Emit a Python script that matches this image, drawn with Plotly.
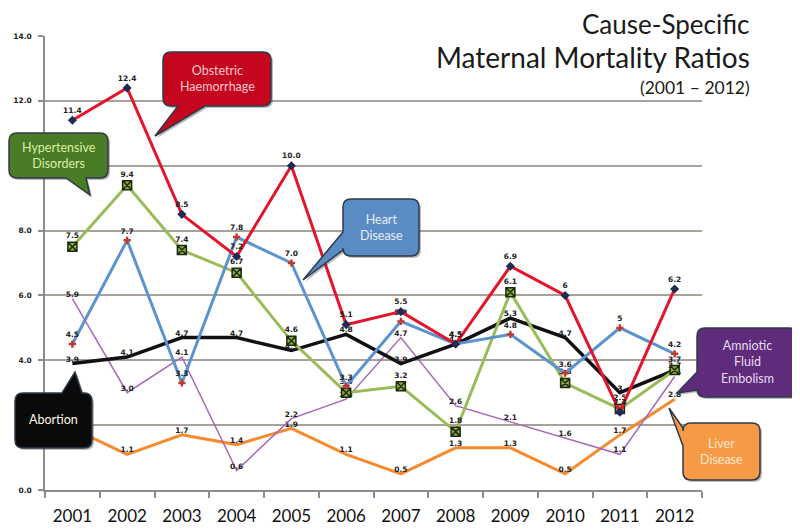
import plotly.graph_objects as go

years = ["2001", "2002", "2003", "2004", "2005", "2006", "2007", "2008", "2009", "2010", "2011", "2012"]
obstetric = [11.4, 12.4, 8.5, 7.2, 10.0, 5.1, 5.5, 4.5, 6.9, 6.0, 2.4, 6.2]
obstetric_lbl = ["11.4", "12.4", "8.5", "7.2", "10.0", "5.1", "5.5", "4.5", "6.9", "6", "2.4", "6.2"]
hypertensive = [7.5, 9.4, 7.4, 6.7, 4.6, 3.0, 3.2, 1.8, 6.1, 3.3, 2.5, 3.7]
heart = [4.5, 7.7, 3.3, 7.8, 7.0, 3.2, 5.2, 4.5, 4.8, 3.6, 5.0, 4.2]
heart_lbl = ["4.5", "7.7", "3.3", "7.8", "7.0", "3.3", "5.3", "4.5", "4.8", "3.6", "5", "4.2"]
abortion = [3.9, 4.1, 4.7, 4.7, 4.3, 4.8, 3.9, 4.5, 5.3, 4.7, 3.0, 3.7]
abortion_lbl = ["3.9", "4.1", "4.7", "4.7", "4.3", "4.8", "3.9", "4.5", "5.3", "4.7", "3", "3.7"]
amniotic = [5.9, 3.0, 4.1, 0.6, 2.2, 2.8, 4.7, 2.6, 2.1, 1.6, 1.1, 3.5]
liver = [1.9, 1.1, 1.7, 1.4, 1.9, 1.1, 0.5, 1.3, 1.3, 0.5, 1.7, 2.8]
liver_lbl = ["", "1.1", "1.7", "1.4", "1.9", "1.1", "0.5", "1.3", "1.3", "0.5", "1.7", "2.8"]

# plot area on screen, in pixels (page body adds an 8px offset)
L, R, T, B = 45, 702, 36, 490
W, H = 800, 529
OFF = 8


def px(x, y):
    return (x - L) / (R - L), (B - y) / (B - T)


def bubble(x0, y0, x1, y1, r, edge, a, b, tip):
    def P(x, y):
        xp, yp = px(x, y)
        return f"{xp:.5f},{yp:.5f}"

    s = f"M {P(x0 + r, y0)} "
    if edge == "top":
        s += f"L {P(a, y0)} L {P(*tip)} L {P(b, y0)} "
    s += f"L {P(x1 - r, y0)} Q {P(x1, y0)} {P(x1, y0 + r)} "
    if edge == "right":
        s += f"L {P(x1, a)} L {P(*tip)} L {P(x1, b)} "
    s += f"L {P(x1, y1 - r)} Q {P(x1, y1)} {P(x1 - r, y1)} "
    if edge == "bottom":
        s += f"L {P(b, y1)} L {P(*tip)} L {P(a, y1)} "
    s += f"L {P(x0 + r, y1)} Q {P(x0, y1)} {P(x0, y1 - r)} "
    if edge == "left":
        s += f"L {P(x0, b)} L {P(*tip)} L {P(x0, a)} "
    s += f"L {P(x0, y0 + r)} Q {P(x0, y0)} {P(x0 + r, y0)} Z"
    return s


fig = go.Figure()

lbl_font = dict(family="DejaVu Sans", size=7.5, color="#222222", weight="bold")


def add(name, y, color, width, marker=None, text=None):
    fig.add_trace(go.Scatter(
        x=years, y=y, name=name,
        mode="lines+markers+text" if marker else "lines+text",
        line=dict(color=color, width=width),
        marker=marker,
        text=text if text is not None else [f"{v:.1f}" for v in y],
        textposition="top center",
        textfont=lbl_font,
        cliponaxis=False,
    ))


add("Liver Disease", liver, "#F58A2E", 3, text=liver_lbl)
add("Amniotic Fluid Embolism", amniotic, "#A467B8", 1.5)
add("Abortion", abortion, "#111111", 3.5, text=abortion_lbl)
add("Hypertensive Disorders", hypertensive, "#9BBB59", 3,
    marker=dict(symbol="square-x", size=9, color="#8DAE42", line=dict(color="#1B2A0A", width=1.5)))
add("Heart Disease", heart, "#5B93CF", 3,
    marker=dict(symbol="cross", size=6, color="#C0392B", line=dict(width=0)), text=heart_lbl)
add("Obstetric Haemorrhage", obstetric, "#E3152B", 3,
    marker=dict(symbol="diamond", size=7, color="#1F2A55", line=dict(width=0)), text=obstetric_lbl)

callouts = [
    # x0, y0, x1, y1, fill, text color, edge, a, b, tip, lines, text centre y
    (163, 52, 271, 106, "#C4061E", "#F8C9D0", "bottom", 178, 205, (155, 136), ["Obstetric", "Haemorrhage"], 79),
    (9, 133, 108, 178, "#4A7B25", "#D9EFA6", "bottom", 66, 86, (90, 195), ["Hypertensive", "Disorders"], 156),
    (343, 199, 419, 256, "#5A8BC4", "#E6EEF8", "left", 232, 250, (303, 280), ["Heart", "Disease"], 227),
    (15, 393, 92, 448, "#0A0A0A", "#FFF6E6", "top", 62, 82, (75, 372), ["Abortion"], 419),
    (697, 328, 797, 397, "#5E2C7A", "#E9DAF2", "left", 372, 390, (677, 393), ["Amniotic", "Fluid", "Embolism"], 362),
    (683, 423, 760, 480, "#F79A45", "#FDE7CF", "left", 428, 446, (669, 408), ["Liver", "Disease"], 451),
]

shapes = []
annotations = []
for (x0, y0, x1, y1, fill, tc, edge, a, b, tip, lines, cy) in callouts:
    sh_tip = (tip[0] + 2, tip[1] + 2)
    shapes.append(dict(type="path", xref="paper", yref="paper",
                       path=bubble(x0 + 2, y0 + 2, x1 + 2, y1 + 2, 8, edge, a + 2, b + 2, sh_tip),
                       fillcolor="rgba(60,60,60,0.35)", line=dict(width=0), layer="above"))
    shapes.append(dict(type="path", xref="paper", yref="paper",
                       path=bubble(x0, y0, x1, y1, 8, edge, a, b, tip),
                       fillcolor=fill, line=dict(color="#2E3A4A", width=1.5), layer="above"))
    cx = (x0 + x1) / 2
    xp, yp = px(cx, cy)
    annotations.append(dict(xref="paper", yref="paper", x=xp, y=yp, showarrow=False,
                            xanchor="center", yanchor="middle",
                            text="<br>".join(lines), align="center",
                            font=dict(family="Lato", size=12.5, color=tc)))

# title
for txt, yc, sz in [("Cause-Specific", 24, 26), ("Maternal Mortality Ratios", 57, 28), ("(2001 – 2012)", 87, 17.5)]:
    xp, yp = px(751, yc)
    annotations.append(dict(xref="paper", yref="paper", x=xp, y=yp, xanchor="right", yanchor="middle",
                            showarrow=False, text=txt, borderpad=0,
                            font=dict(family="Lato", size=sz, color="#1a1a1a")))

fig.update_layout(
    width=W, height=H,
    margin=dict(l=L - OFF, r=W - (R - OFF), t=T - OFF, b=H - (B - OFF), autoexpand=False),
    paper_bgcolor="white", plot_bgcolor="white",
    showlegend=False,
    shapes=shapes,
    annotations=annotations,
    xaxis=dict(type="category", range=[-0.5, 11.5], autorange=False, tickson="boundaries",
               ticks="outside", ticklen=6, automargin=False,
               tickcolor="#8C8C8C", tickwidth=1.5, showline=True, linecolor="#8C8C8C", linewidth=1.5,
               showgrid=False, ticklabelstandoff=10,
               tickfont=dict(family="Lato", size=17, color="#111111")),
    yaxis=dict(range=[0, 14], autorange=False, dtick=2, tickformat=".1f", showgrid=True, gridcolor="#A8A19B",
               gridwidth=2, zeroline=False, showline=True, linecolor="#8C8C8C", linewidth=1.5,
               ticks="outside", ticklen=5, tickcolor="#8C8C8C", tickwidth=1.5, automargin=False,
               ticklabelstandoff=5,
               tickfont=dict(family="DejaVu Sans", size=7.5, color="#222222", weight="bold")),
)

fig.write_html("out.html")
